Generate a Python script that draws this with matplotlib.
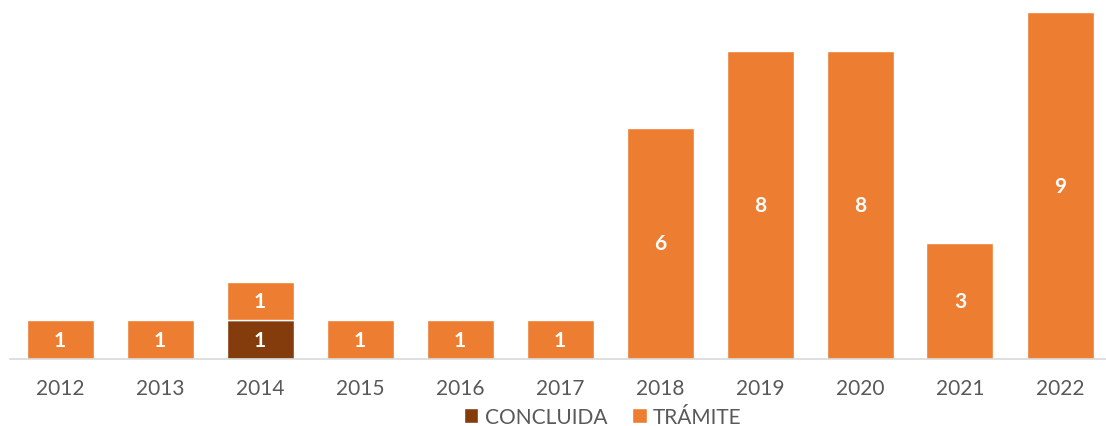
import matplotlib.pyplot as plt

plt.rcParams['font.family'] = ['Lato', 'DejaVu Sans']

years = ['2012', '2013', '2014', '2015', '2016', '2017', '2018', '2019', '2020', '2021', '2022']
concluida = [0, 0, 1, 0, 0, 0, 0, 0, 0, 0, 0]
tramite = [1, 1, 1, 1, 1, 1, 6, 8, 8, 3, 9]

fig = plt.figure(figsize=(11.06, 4.27), dpi=100)
ax = fig.add_axes([10 / 1106, 67 / 427, 1096 / 1106, 360 / 427])

x = range(len(years))
b1 = ax.bar(x, concluida, width=0.67, color='#843C0C', edgecolor='white', linewidth=1, label='CONCLUIDA')
b2 = ax.bar(x, tramite, width=0.67, bottom=concluida, color='#ED7D31', edgecolor='white', linewidth=1, label='TRÁMITE')

# white value labels in the middle of each segment
for bars, vals, base in [(b1, concluida, [0] * len(years)), (b2, tramite, concluida)]:
    for rect, v, b in zip(bars, vals, base):
        if v > 0:
            ax.text(rect.get_x() + rect.get_width() / 2, b + v / 2, str(v),
                    ha='center', va='center', color='white', fontsize=15, fontweight='bold')

ax.set_xlim(-0.5, 10.46)
ax.set_ylim(0, 9.34)
ax.set_xticks(list(x))
ax.set_xticklabels(years, fontsize=15, color='#595959')
ax.set_yticks([])
for s in ['top', 'right', 'left']:
    ax.spines[s].set_visible(False)
ax.spines['bottom'].set_color('#D9D9D9')
ax.spines['bottom'].set_linewidth(1.2)
ax.tick_params(axis='x', length=0, pad=14)

fig.legend(loc='center', bbox_to_anchor=(0.545, 0.022), ncol=2, frameon=False,
           fontsize=15, labelcolor='#595959', handlelength=0.7, handleheight=0.7,
           handletextpad=0.3, columnspacing=1.2)

plt.savefig('out.png')
